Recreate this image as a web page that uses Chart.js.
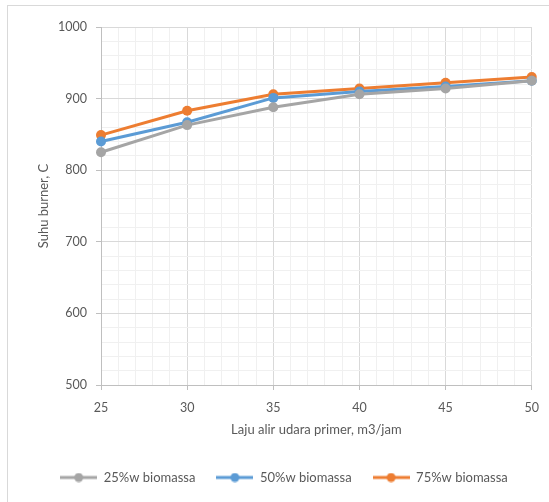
<!DOCTYPE html>
<html>
<head>
<meta charset="utf-8">
<script src="https://cdn.jsdelivr.net/npm/chart.js@4.4.1/dist/chart.umd.min.js"></script>
<style>
  html, body { margin: 0; padding: 0; background: #ffffff; }
  #wrap { position: relative; width: 549px; height: 502px; overflow: hidden; }
  #frame { position: absolute; left: 7px; top: 5px; width: 620px; height: 620px;
           border: 1px solid #d9d9d9; box-sizing: border-box; }
  #c { position: absolute; left: 0; top: 0; }
</style>
</head>
<body>
<div id="wrap">
  <div id="frame"></div>
  <canvas id="c" width="549" height="502"></canvas>
</div>
<script>
// Primary air flow rate (m3/jam) and burner temperature (C) per biomass share
const airFlow = [25, 30, 35, 40, 45, 50];
const temp25 = [825, 863, 888, 906, 914, 925];
const temp50 = [840, 867, 901, 910, 917, 925];
const temp75 = [849, 883, 906, 914, 922, 930];
const seriesNames = ['25%w biomassa', '50%w biomassa', '75%w biomassa'];
const seriesColors = ['#a5a5a5', '#5b9bd5', '#ed7d31'];
const xTitle = 'Laju alir udara primer, m3/jam';
const yTitle = 'Suhu burner, C';

const TEXT = '#595959';
const MAJOR = '#d9d9d9';
const MINOR = '#f0f0f0';
const AXIS = '#bfbfbf';

Chart.defaults.font.family = 'Lato, "Open Sans", sans-serif';
Chart.defaults.color = TEXT;

// legend swatch: short line with a dot in the middle
function swatch(color) {
  const cv = document.createElement('canvas');
  cv.width = 37; cv.height = 10;
  const g = cv.getContext('2d');
  g.strokeStyle = color; g.lineWidth = 3;
  g.beginPath(); g.moveTo(0, 5); g.lineTo(37, 5); g.stroke();
  g.fillStyle = color;
  g.beginPath(); g.arc(18.5, 5, 4.5, 0, Math.PI * 2); g.fill();
  return cv;
}

const seriesValues = [temp25, temp50, temp75];
const datasets = seriesValues.map((vals, i) => ({
  label: seriesNames[i],
  data: airFlow.map((x, j) => ({ x: x, y: vals[j] })),
  borderColor: seriesColors[i],
  backgroundColor: seriesColors[i],
  pointBackgroundColor: seriesColors[i],
  pointBorderColor: seriesColors[i],
  borderWidth: 3,
  pointRadius: 5,
  pointBorderWidth: 0,
  pointHoverRadius: 5,
  tension: 0,
  clip: false
}));

const isMajor = (v, step) => Math.abs(v % step) < 1e-6;

new Chart(document.getElementById('c'), {
  type: 'line',
  data: { datasets: datasets },
  options: {
    responsive: false,
    animation: false,
    devicePixelRatio: 1,
    layout: { padding: { top: 27, right: 17, bottom: 8, left: 36 } },
    plugins: {
      tooltip: { enabled: false },
      legend: {
        position: 'bottom',
        labels: {
          usePointStyle: true,
          pointStyleWidth: 37,
          padding: 21,
          font: { size: 13 },
          color: TEXT,
          generateLabels: (chart) => chart.data.datasets.map((ds, i) => ({
            text: ds.label,
            fillStyle: ds.borderColor,
            strokeStyle: ds.borderColor,
            fontColor: TEXT,
            lineWidth: 0,
            pointStyle: swatch(ds.borderColor),
            hidden: false,
            datasetIndex: i
          }))
        }
      }
    },
    scales: {
      x: {
        type: 'linear',
        min: 25,
        max: 50,
        afterFit: (s) => { s.height = 65; },
        ticks: {
          stepSize: 1,
          autoSkip: false,
          maxRotation: 0,
          padding: 10,
          font: { size: 12.5 },
          color: TEXT,
          callback: (v) => isMajor(v, 5) ? String(v) : ''
        },
        grid: {
          color: (ctx) => isMajor(ctx.tick.value, 5) ? MAJOR : MINOR,
          tickColor: (ctx) => isMajor(ctx.tick.value, 5) ? AXIS : 'rgba(0,0,0,0)',
          tickLength: 5,
          lineWidth: 1
        },
        border: { display: true, color: AXIS, width: 1 },
        title: { display: true, text: xTitle, font: { size: 13 }, color: TEXT,
                 padding: { top: 4, bottom: 12 } }
      },
      y: {
        type: 'linear',
        min: 500,
        max: 1000,
        afterFit: (s) => { s.width = 65; },
        ticks: {
          stepSize: 20,
          autoSkip: false,
          padding: 9,
          font: { size: 12.5 },
          color: TEXT,
          callback: (v) => isMajor(v, 100) ? String(v) : ''
        },
        grid: {
          color: (ctx) => isMajor(ctx.tick.value, 100) ? MAJOR : MINOR,
          tickColor: (ctx) => isMajor(ctx.tick.value, 100) ? AXIS : 'rgba(0,0,0,0)',
          tickLength: 5,
          lineWidth: 1
        },
        border: { display: true, color: AXIS, width: 1 },
        title: { display: true, text: yTitle, font: { size: 13 }, color: TEXT,
                 padding: { top: 0, bottom: 4 } }
      }
    }
  }
});
</script>
</body>
</html>
